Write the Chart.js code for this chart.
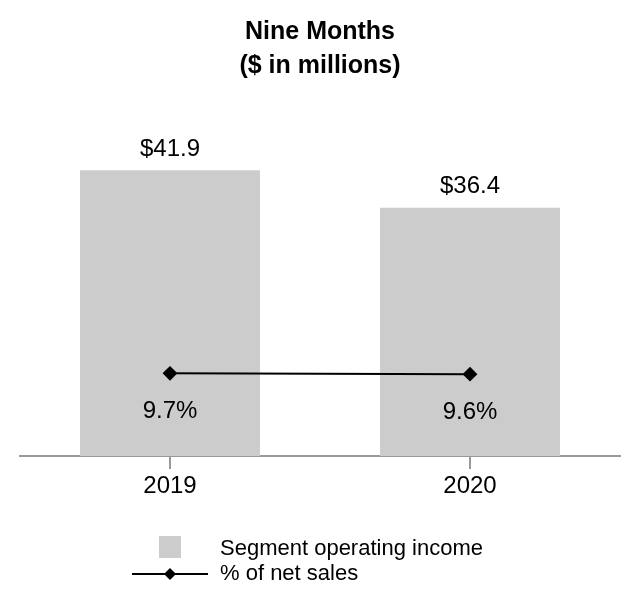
<!DOCTYPE html>
<html>
<head>
<meta charset="utf-8">
<script src="https://cdn.jsdelivr.net/npm/chart.js@4/dist/chart.umd.min.js"></script>
<style>
html,body{margin:0;padding:0;background:#fff;}
#wrap{width:640px;height:612px;position:relative;}
</style>
</head>
<body>
<div id="wrap"><canvas id="c" width="640" height="612"></canvas></div>
<script>
const categories = ["2019", "2020"];
const incomeValues = [41.9, 36.4];
const pctValues = [9.7, 9.6];
const incomeLabels = ["$41.9", "$36.4"];
const pctLabels = ["9.7%", "9.6%"];
const seriesNames = ["Segment operating income", "% of net sales"];
const titleLines = ["Nine Months", "($ in millions)"];

const FONT = "'Liberation Sans', Arial, Helvetica, sans-serif";

const labelPlugin = {
  id: 'labels',
  afterDatasetsDraw(chart) {
    const ctx = chart.ctx;
    ctx.save();
    ctx.font = "24px " + FONT;
    ctx.fillStyle = "#000";
    ctx.textAlign = "center";
    ctx.textBaseline = "middle";
    const barMeta = chart.getDatasetMeta(0);
    barMeta.data.forEach((el, i) => {
      ctx.fillText(incomeLabels[i], el.x, el.y - 21);
    });
    const lineMeta = chart.getDatasetMeta(1);
    lineMeta.data.forEach((el, i) => {
      ctx.fillText(pctLabels[i], el.x, el.y + 38);
    });
    ctx.restore();
  }
};

const legendPlugin = {
  id: 'customLegend',
  afterDraw(chart) {
    const ctx = chart.ctx;
    const ds = chart.data.datasets;
    ctx.save();
    ctx.font = "22px " + FONT;
    ctx.textAlign = "left";
    ctx.textBaseline = "middle";
    ctx.fillStyle = ds[0].backgroundColor;
    ctx.fillRect(159, 536, 22, 22);
    ctx.fillStyle = "#000";
    ctx.fillText(ds[0].label, 220, 549);
    ctx.strokeStyle = ds[1].borderColor;
    ctx.lineWidth = 2;
    ctx.beginPath();
    ctx.moveTo(132, 574);
    ctx.lineTo(208, 574);
    ctx.stroke();
    ctx.fillStyle = "#000";
    ctx.beginPath();
    ctx.moveTo(170, 568);
    ctx.lineTo(176, 574);
    ctx.lineTo(170, 580);
    ctx.lineTo(164, 574);
    ctx.closePath();
    ctx.fill();
    ctx.fillText(ds[1].label, 220, 574);
    ctx.restore();
  }
};

new Chart(document.getElementById('c'), {
  type: 'bar',
  data: {
    labels: categories,
    datasets: [
      {
        type: 'bar',
        label: seriesNames[0],
        data: incomeValues,
        backgroundColor: '#cccccc',
        borderWidth: 0,
        categoryPercentage: 1.0,
        barPercentage: 0.6,
        yAxisID: 'y',
        order: 2
      },
      {
        type: 'line',
        label: seriesNames[1],
        data: pctValues,
        borderColor: '#000000',
        backgroundColor: '#000000',
        borderWidth: 2,
        pointStyle: 'rectRot',
        pointRadius: 6,
        pointBackgroundColor: '#000',
        pointBorderColor: '#000',
        yAxisID: 'y1',
        order: 1
      }
    ]
  },
  options: {
    responsive: false,
    animation: false,
    devicePixelRatio: 1,
    layout: { padding: { top: 0, left: 20, right: 20, bottom: 106 } },
    plugins: {
      legend: { display: false },
      tooltip: { enabled: false },
      title: {
        display: true,
        text: titleLines,
        color: '#000',
        font: { family: FONT, size: 25, weight: 'bold', lineHeight: 1.36 },
        padding: { top: 15, bottom: 32 }
      }
    },
    scales: {
      x: {
        offset: true,
        afterFit(scale) { scale.height = 50; },
        grid: { display: true, drawOnChartArea: false, drawTicks: true, tickLength: 13, offset: false, color: '#999999', lineWidth: 2 },
        border: { display: true, color: '#999999', width: 2 },
        ticks: { color: '#000', font: { family: FONT, size: 24 }, padding: 3 }
      },
      y: {
        display: false,
        min: 0,
        max: 50
      },
      y1: {
        display: false,
        min: 0,
        max: 40
      }
    }
  },
  plugins: [labelPlugin, legendPlugin]
});
</script>
</body>
</html>
